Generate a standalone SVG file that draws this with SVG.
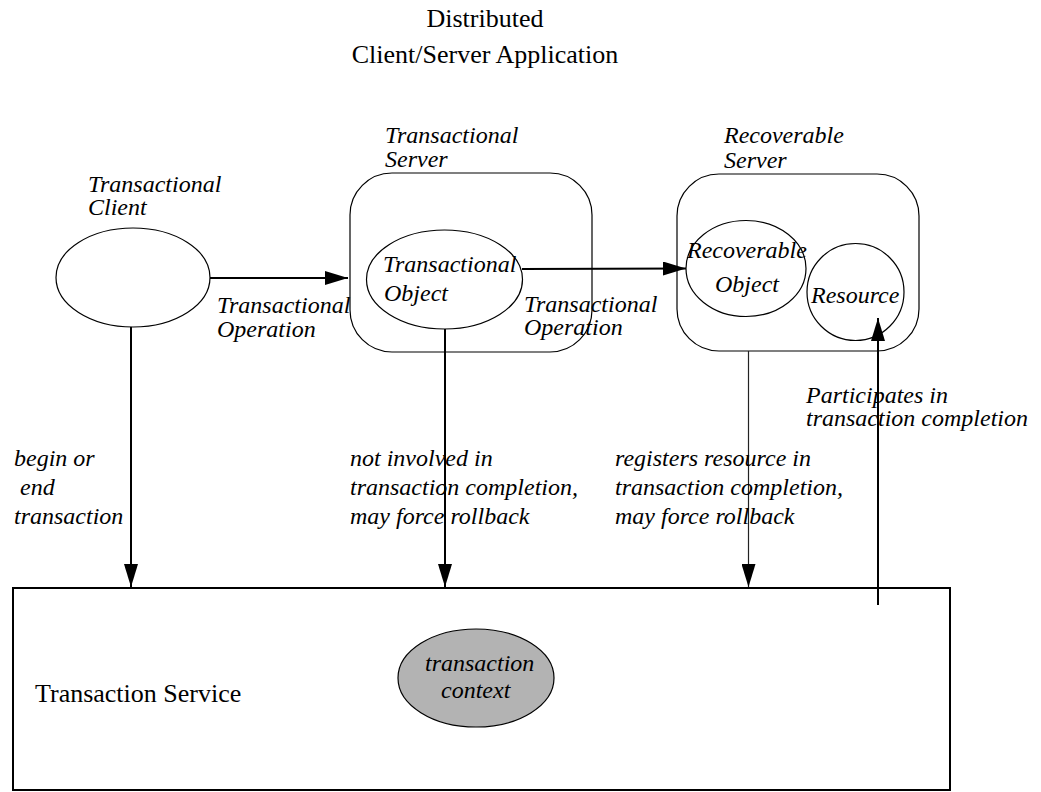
<svg xmlns="http://www.w3.org/2000/svg" width="1041" height="792" viewBox="0 0 1041 792">
<style>
.t{font-family:"Liberation Serif","Times New Roman",serif;font-size:26px;fill:#000}
.i{font-family:"Liberation Serif","Times New Roman",serif;font-size:24px;font-style:italic;fill:#000}
.shape{fill:#fff;stroke:#000;stroke-width:1.2}
.conn{stroke:#000;stroke-width:2;fill:none}
.thin{stroke:#222;stroke-width:1.2;fill:none}
</style>
<defs>
<marker id="ah" markerUnits="userSpaceOnUse" markerWidth="24" markerHeight="14" refX="23" refY="7" orient="auto">
<path d="M0,0 L23,7 L0,14 z" fill="#000"/>
</marker>
</defs>
<rect width="1041" height="792" fill="#fff"/>
<g id="title">
<text class="t" x="485" y="27" text-anchor="middle">Distributed</text>
<text class="t" x="485" y="63" text-anchor="middle">Client/Server Application</text>
</g>
<g id="transaction-service">
<rect x="13" y="588" width="937" height="202" fill="#fff" stroke="#000" stroke-width="2"/>
<text class="t" x="35" y="702">Transaction Service</text>
</g>
<g id="transaction-context">
<ellipse cx="476" cy="678" rx="78" ry="49" fill="#b3b3b3" stroke="#000" stroke-width="1.2"/>
<text class="i" x="425" y="671">transaction</text>
<text class="i" x="441" y="698">context</text>
</g>
<g id="transactional-client">
<ellipse class="shape" cx="133" cy="277.5" rx="77" ry="49.5"/>
<text class="i" x="88" y="192">Transactional</text>
<text class="i" x="88" y="215">Client</text>
</g>
<g id="transactional-server">
<rect class="shape" x="350" y="173" width="242" height="179" rx="42" ry="42"/>
<text class="i" x="385" y="143">Transactional</text>
<text class="i" x="385" y="167">Server</text>
</g>
<g id="transactional-object">
<ellipse class="shape" cx="444.5" cy="279.5" rx="78" ry="49.5"/>
<text class="i" x="383" y="272">Transactional</text>
<text class="i" x="384" y="301">Object</text>
</g>
<g id="recoverable-server">
<rect class="shape" x="677" y="174" width="242" height="177" rx="42" ry="42"/>
<text class="i" x="724" y="143">Recoverable</text>
<text class="i" x="724" y="168">Server</text>
</g>
<g id="recoverable-object">
<ellipse class="shape" cx="746" cy="268.5" rx="60" ry="48"/>
<text class="i" x="687" y="258">Recoverable</text>
<text class="i" x="715" y="292">Object</text>
</g>
<g id="resource">
<circle class="shape" cx="855.5" cy="292" r="48.5"/>
<text class="i" x="811" y="303">Resource</text>
</g>
<g id="connectors">
<line class="conn" x1="210" y1="278" x2="348" y2="278" marker-end="url(#ah)"/>
<line class="conn" x1="522" y1="269" x2="686" y2="268.5" marker-end="url(#ah)"/>
<line class="conn" x1="131" y1="327" x2="131" y2="587" marker-end="url(#ah)"/>
<line class="conn" x1="445" y1="329" x2="445" y2="587" marker-end="url(#ah)"/>
<line class="thin" x1="748.5" y1="351" x2="748.5" y2="587" marker-end="url(#ah)"/>
<line class="conn" x1="878" y1="605" x2="878" y2="318" marker-end="url(#ah)"/>
</g>
<g id="labels">
<text class="i" x="217" y="313">Transactional</text>
<text class="i" x="217" y="337">Operation</text>
<text class="i" x="524" y="312">Transactional</text>
<text class="i" x="524" y="335">Operation</text>
<text class="i" x="806" y="403">Participates in</text>
<text class="i" x="806" y="426">transaction completion</text>
<text class="i" x="14" y="466">begin or</text>
<text class="i" x="14" y="495" xml:space="preserve"> end</text>
<text class="i" x="14" y="524">transaction</text>
<text class="i" x="350" y="466">not involved in</text>
<text class="i" x="350" y="495">transaction completion,</text>
<text class="i" x="350" y="524">may force rollback</text>
<text class="i" x="615" y="466">registers resource in</text>
<text class="i" x="615" y="495">transaction completion,</text>
<text class="i" x="615" y="524">may force rollback</text>
</g>
</svg>
